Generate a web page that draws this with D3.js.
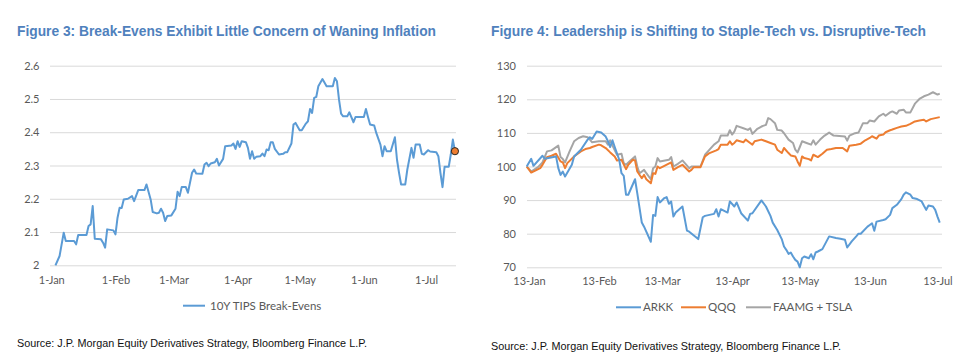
<!DOCTYPE html>
<html>
<head>
<meta charset="utf-8">
<script src="https://cdn.jsdelivr.net/npm/d3@7"></script>
<style>
  body { margin: 0; background: #fff; }
  svg { display: block; }
  .tick text { font-family: Lato, "Open Sans", sans-serif; font-size: 11px; fill: #595959; }
</style>
</head>
<body>
<div id="chart"></div>
<script>
// ---- data: Figure 3 (10Y TIPS break-evens) ----
const beDates = ["2021-01-03","2021-01-05","2021-01-07","2021-01-08","2021-01-12","2021-01-13","2021-01-14","2021-01-18","2021-01-19","2021-01-20",
  "2021-01-21","2021-01-22","2021-01-25","2021-01-26","2021-01-27","2021-01-28","2021-01-31","2021-02-01","2021-02-02","2021-02-03",
  "2021-02-04","2021-02-05","2021-02-07","2021-02-09","2021-02-10","2021-02-12","2021-02-15","2021-02-16","2021-02-18","2021-02-19",
  "2021-02-21","2021-02-22","2021-02-23","2021-02-24","2021-02-25","2021-02-26","2021-02-28","2021-03-02","2021-03-03","2021-03-04",
  "2021-03-05","2021-03-07","2021-03-08","2021-03-09","2021-03-10","2021-03-11","2021-03-12","2021-03-15","2021-03-16","2021-03-17",
  "2021-03-18","2021-03-19","2021-03-21","2021-03-22","2021-03-23","2021-03-25","2021-03-26","2021-03-29","2021-03-30","2021-03-31",
  "2021-04-01","2021-04-02","2021-04-03","2021-04-05","2021-04-06","2021-04-07","2021-04-08","2021-04-09","2021-04-10","2021-04-12",
  "2021-04-13","2021-04-14","2021-04-15","2021-04-16","2021-04-17","2021-04-18","2021-04-19","2021-04-21","2021-04-23","2021-04-24",
  "2021-04-25","2021-04-27","2021-04-28","2021-04-29","2021-05-01","2021-05-02","2021-05-04","2021-05-05","2021-05-06","2021-05-07",
  "2021-05-08","2021-05-09","2021-05-10","2021-05-12","2021-05-14","2021-05-17","2021-05-18","2021-05-19","2021-05-20","2021-05-21",
  "2021-05-22","2021-05-24","2021-05-25","2021-05-27","2021-05-28","2021-06-01","2021-06-02","2021-06-03","2021-06-04","2021-06-06",
  "2021-06-07","2021-06-09","2021-06-10","2021-06-11","2021-06-12","2021-06-14","2021-06-16","2021-06-17","2021-06-18","2021-06-19",
  "2021-06-21","2021-06-22","2021-06-24","2021-06-25","2021-06-26","2021-06-28","2021-06-29","2021-06-30","2021-07-02","2021-07-03",
  "2021-07-06","2021-07-07","2021-07-08","2021-07-09","2021-07-10","2021-07-12","2021-07-13","2021-07-14","2021-07-15"];
const beValues = [2.000,2.028,2.098,2.073,2.073,2.063,2.091,2.091,2.118,2.123,
  2.178,2.080,2.078,2.068,2.053,2.108,2.105,2.093,2.143,2.173,
  2.172,2.198,2.200,2.208,2.193,2.226,2.226,2.243,2.198,2.160,
  2.156,2.158,2.170,2.158,2.133,2.148,2.150,2.170,2.221,2.208,
  2.235,2.235,2.218,2.248,2.278,2.288,2.276,2.275,2.303,2.308,
  2.298,2.306,2.310,2.320,2.300,2.320,2.358,2.360,2.366,2.350,
  2.373,2.356,2.373,2.370,2.353,2.320,2.343,2.320,2.326,2.328,
  2.336,2.328,2.348,2.346,2.370,2.370,2.350,2.333,2.335,2.340,
  2.340,2.366,2.423,2.428,2.406,2.406,2.426,2.433,2.470,2.458,
  2.503,2.506,2.538,2.560,2.538,2.538,2.563,2.553,2.498,2.456,
  2.448,2.448,2.460,2.430,2.446,2.446,2.470,2.446,2.423,2.420,
  2.398,2.363,2.328,2.358,2.343,2.343,2.385,2.318,2.278,2.243,
  2.243,2.288,2.353,2.323,2.363,2.363,2.335,2.333,2.346,2.342,
  2.340,2.328,2.278,2.235,2.296,2.296,2.333,2.378,2.343];
const beTicks = ["2021-01-01","2021-02-01","2021-03-01","2021-04-01","2021-05-01","2021-06-01","2021-07-01"];
const beYTicks = [2, 2.1, 2.2, 2.3, 2.4, 2.5, 2.6];

// ---- data: Figure 4 (ARKK, QQQ, FAAMG + TSLA, rebased to 100) ----
const arkkDates = ["2021-01-12","2021-01-14","2021-01-15","2021-01-19","2021-01-20","2021-01-25","2021-01-26","2021-01-27","2021-01-28","2021-01-29",
  "2021-02-01","2021-02-02","2021-02-05","2021-02-08","2021-02-09","2021-02-10","2021-02-12","2021-02-14","2021-02-16","2021-02-17",
  "2021-02-18","2021-02-19","2021-02-20","2021-02-22","2021-02-23","2021-02-24","2021-02-25","2021-02-26","2021-03-01","2021-03-02",
  "2021-03-04","2021-03-05","2021-03-08","2021-03-09","2021-03-10","2021-03-11","2021-03-12","2021-03-14","2021-03-15","2021-03-16",
  "2021-03-17","2021-03-18","2021-03-19","2021-03-22","2021-03-24","2021-03-25","2021-03-29","2021-03-31","2021-04-01","2021-04-05",
  "2021-04-06","2021-04-07","2021-04-08","2021-04-11","2021-04-12","2021-04-14","2021-04-15","2021-04-17","2021-04-20","2021-04-21",
  "2021-04-22","2021-04-26","2021-04-28","2021-04-30","2021-05-01","2021-05-03","2021-05-05","2021-05-06","2021-05-07","2021-05-08",
  "2021-05-09","2021-05-10","2021-05-11","2021-05-12","2021-05-13","2021-05-14","2021-05-15","2021-05-17","2021-05-18","2021-05-19",
  "2021-05-20","2021-05-21","2021-05-23","2021-05-26","2021-05-29","2021-05-31","2021-06-02","2021-06-03","2021-06-05","2021-06-07",
  "2021-06-08","2021-06-09","2021-06-12","2021-06-13","2021-06-14","2021-06-15","2021-06-16","2021-06-19","2021-06-20","2021-06-22",
  "2021-06-23","2021-06-25","2021-06-27","2021-06-28","2021-06-29","2021-07-01","2021-07-02","2021-07-04","2021-07-06","2021-07-07",
  "2021-07-08","2021-07-09","2021-07-11","2021-07-12","2021-07-13","2021-07-14"];
const arkkValues = [100.0,102.3,100.2,103.2,102.3,103.0,99.5,97.5,98.5,97.0,
  100.5,103.0,105.0,108.0,108.7,108.2,110.4,110.1,108.9,107.5,
  105.8,107.8,105.8,102.0,98.0,97.2,91.6,91.6,96.2,92.0,
  83.3,82.1,77.6,85.6,85.3,90.9,89.3,90.6,90.9,88.9,
  89.6,85.1,86.3,88.1,80.9,80.6,78.4,84.9,85.3,85.9,
  87.3,85.1,87.3,86.3,89.6,88.1,89.3,86.1,83.9,85.9,
  86.1,89.9,88.1,85.3,83.3,81.1,78.4,76.2,75.2,74.0,
  74.4,73.2,72.2,71.7,70.0,72.7,73.2,72.7,73.9,72.4,
  74.4,74.7,75.4,79.2,78.7,78.5,78.2,75.9,77.7,79.2,
  80.0,80.0,82.1,82.6,83.1,80.9,83.6,84.1,84.3,85.6,
  87.6,88.6,90.3,91.6,92.3,91.6,90.6,90.3,89.6,88.3,
  87.1,88.4,88.1,87.1,85.1,83.3];

const qqqDates = ["2021-01-12","2021-01-14","2021-01-18","2021-01-19","2021-01-21","2021-01-23","2021-01-25","2021-01-27","2021-01-28","2021-01-29",
  "2021-01-30","2021-02-02","2021-02-03","2021-02-05","2021-02-07","2021-02-09","2021-02-10","2021-02-13","2021-02-14","2021-02-16",
  "2021-02-18","2021-02-20","2021-02-21","2021-02-23","2021-02-25","2021-02-26","2021-02-28","2021-03-01","2021-03-02","2021-03-04",
  "2021-03-05","2021-03-06","2021-03-08","2021-03-09","2021-03-10","2021-03-11","2021-03-12","2021-03-14","2021-03-17","2021-03-18",
  "2021-03-20","2021-03-22","2021-03-25","2021-03-26","2021-03-27","2021-03-30","2021-04-01","2021-04-03","2021-04-06","2021-04-07",
  "2021-04-08","2021-04-11","2021-04-12","2021-04-13","2021-04-14","2021-04-15","2021-04-18","2021-04-19","2021-04-21","2021-04-22",
  "2021-04-23","2021-04-26","2021-04-28","2021-04-30","2021-05-02","2021-05-03","2021-05-05","2021-05-06","2021-05-08","2021-05-09",
  "2021-05-11","2021-05-12","2021-05-13","2021-05-14","2021-05-15","2021-05-17","2021-05-18","2021-05-19","2021-05-21","2021-05-23",
  "2021-05-25","2021-05-27","2021-05-29","2021-06-01","2021-06-03","2021-06-04","2021-06-07","2021-06-09","2021-06-11","2021-06-13",
  "2021-06-14","2021-06-16","2021-06-17","2021-06-19","2021-06-20","2021-06-22","2021-06-23","2021-06-25","2021-06-27","2021-06-29",
  "2021-07-01","2021-07-03","2021-07-05","2021-07-07","2021-07-08","2021-07-10","2021-07-12","2021-07-14"];
const qqqValues = [100.0,98.2,99.5,100.5,102.8,103.2,103.8,101.5,101.2,99.5,
  101.0,103.0,103.5,104.5,105.2,105.5,105.8,106.5,106.3,105.5,
  104.2,103.0,101.8,102.0,99.2,100.5,102.0,101.8,98.5,96.5,
  97.5,96.2,95.0,98.0,97.8,100.0,99.5,100.2,101.2,99.0,
  99.8,100.5,98.5,99.0,99.8,99.8,103.0,104.0,104.8,105.2,
  106.5,106.5,107.5,106.5,107.0,107.8,107.2,108.0,107.0,106.5,
  107.5,108.0,107.5,107.0,106.5,105.0,104.0,105.5,104.0,103.3,
  103.0,101.5,100.2,103.0,102.5,102.2,101.8,103.5,102.8,103.8,
  105.0,105.2,105.5,105.5,104.5,106.2,106.5,106.8,107.8,108.5,
  109.0,108.3,109.2,109.5,110.2,110.8,111.0,111.5,111.9,112.1,
  112.7,113.4,113.7,113.9,113.4,114.1,114.4,114.7];

const techDates = ["2021-01-12","2021-01-14","2021-01-17","2021-01-19","2021-01-21","2021-01-23","2021-01-26","2021-01-27","2021-01-28","2021-01-29",
  "2021-01-31","2021-02-02","2021-02-04","2021-02-06","2021-02-08","2021-02-09","2021-02-10","2021-02-13","2021-02-16","2021-02-17",
  "2021-02-18","2021-02-19","2021-02-21","2021-02-23","2021-02-24","2021-02-25","2021-02-27","2021-03-01","2021-03-02","2021-03-03",
  "2021-03-05","2021-03-06","2021-03-08","2021-03-09","2021-03-10","2021-03-11","2021-03-12","2021-03-16","2021-03-17","2021-03-18",
  "2021-03-20","2021-03-22","2021-03-25","2021-03-26","2021-03-30","2021-04-01","2021-04-03","2021-04-05","2021-04-07","2021-04-08",
  "2021-04-11","2021-04-12","2021-04-13","2021-04-14","2021-04-15","2021-04-18","2021-04-20","2021-04-21","2021-04-22","2021-04-24",
  "2021-04-26","2021-04-28","2021-04-29","2021-04-30","2021-05-02","2021-05-03","2021-05-05","2021-05-06","2021-05-08","2021-05-10",
  "2021-05-11","2021-05-12","2021-05-13","2021-05-14","2021-05-16","2021-05-18","2021-05-19","2021-05-20","2021-05-22","2021-05-24",
  "2021-05-26","2021-05-28","2021-06-02","2021-06-03","2021-06-04","2021-06-06","2021-06-08","2021-06-10","2021-06-12","2021-06-13",
  "2021-06-15","2021-06-17","2021-06-19","2021-06-20","2021-06-22","2021-06-23","2021-06-25","2021-06-26","2021-06-28","2021-06-29",
  "2021-07-01","2021-07-03","2021-07-05","2021-07-07","2021-07-09","2021-07-11","2021-07-13","2021-07-14"];
const techValues = [100.0,98.5,99.8,101.2,104.5,104.8,106.2,102.8,102.2,101.2,
  104.5,107.5,108.5,109.0,108.7,108.0,107.2,107.5,107.5,106.5,
  107.8,106.2,103.5,103.8,101.0,100.5,101.8,103.0,100.0,98.0,
  99.0,98.0,96.2,99.5,100.0,102.5,101.5,102.0,102.8,100.0,
  100.8,101.8,99.5,100.0,100.0,103.5,105.0,106.5,107.5,109.2,
  109.2,110.8,109.5,110.4,112.1,111.4,110.9,111.4,109.7,111.1,
  111.9,112.4,114.4,114.1,112.9,110.9,110.7,109.9,108.0,107.0,
  105.0,104.2,105.8,107.5,107.0,106.5,107.8,106.5,108.0,109.2,
  110.1,109.2,108.9,107.7,109.2,109.8,110.1,112.9,112.9,113.7,
  113.4,114.9,115.7,115.1,116.1,116.4,115.7,116.7,116.9,116.1,
  116.1,118.7,120.1,120.9,121.4,122.1,121.4,121.7];

const techTicks = ["2021-01-13","2021-02-13","2021-03-13","2021-04-13","2021-05-13","2021-06-13","2021-07-13"];
const techYTicks = [70, 80, 90, 100, 110, 120, 130];
const seriesNames = ["ARKK", "QQQ", "FAAMG + TSLA"];
const seriesColors = ["#5b9bd5", "#ed7d31", "#a5a5a5"];

const parse = d3.timeParse("%Y-%m-%d");
const fontText = "Lato, 'Open Sans', sans-serif";

const svg = d3.select("#chart").append("svg")
    .attr("width", 976)
    .attr("height", 362);

// titles and sources
function title(x, text, len) {
  svg.append("text")
    .attr("x", x).attr("y", 35.5)
    .attr("textLength", len).attr("lengthAdjust", "spacingAndGlyphs")
    .style("font-family", "'Liberation Sans Narrow', 'Liberation Sans', Arial, sans-serif")
    .style("font-weight", "bold").style("font-size", "15px")
    .style("fill", "#4f81bd")
    .text(text);
}
function source(x, y) {
  svg.append("text")
    .attr("x", x).attr("y", y)
    .attr("textLength", 350).attr("lengthAdjust", "spacingAndGlyphs")
    .style("font-family", "'Liberation Sans', Arial, sans-serif")
    .style("font-size", "11.5px").style("fill", "#111")
    .text("Source: J.P. Morgan Equity Derivatives Strategy, Bloomberg Finance L.P.");
}
title(17, "Figure 3: Break-Evens Exhibit Little Concern of Waning Inflation", 419);
title(491, "Figure 4: Leadership is Shifting to Staple-Tech vs. Disruptive-Tech", 435);
source(17, 346.5);
source(491, 350);

// ---------- Figure 3 ----------
const x1 = d3.scaleTime()
    .domain([parse("2021-01-01"), parse("2021-07-16")])
    .range([51.3, 457]);
const y1 = d3.scaleLinear().domain([2, 2.6]).range([265.3, 65.7]);

const g1 = svg.append("g");
g1.append("g")
    .attr("transform", "translate(50,0)")
    .call(d3.axisLeft(y1).tickValues(beYTicks).tickSize(-406).tickPadding(10.5)
      .tickFormat(d => d3.format("")(+d.toFixed(1))))
    .call(g => g.select(".domain").remove())
    .call(g => g.selectAll(".tick line").attr("stroke", "#d9d9d9"));

g1.append("g")
    .attr("transform", "translate(0,265.3)")
    .call(d3.axisBottom(x1).tickValues(beTicks.map(parse)).tickSize(0)
      .tickFormat(d3.timeFormat("%-d-%b")))
    .call(g => g.select(".domain").remove())
    .call(g => g.selectAll(".tick text").attr("y", 14.7).attr("dy", "0.35em"));

const be = beDates.map((d, i) => ({date: parse(d), value: beValues[i]}));
g1.append("path")
    .datum(be)
    .attr("fill", "none")
    .attr("stroke", "#5b9bd5")
    .attr("stroke-width", 2)
    .attr("stroke-linejoin", "round")
    .attr("d", d3.line().x(d => x1(d.date)).y(d => y1(d.value)));

const last = be[be.length - 1];
g1.append("circle")
    .attr("cx", x1(last.date)).attr("cy", y1(last.value)).attr("r", 3.6)
    .attr("fill", "#ed7d31").attr("stroke", "#262626").attr("stroke-width", 1);

// legend
g1.append("line").attr("x1", 183).attr("x2", 205).attr("y1", 305.7).attr("y2", 305.7)
    .attr("stroke", "#5b9bd5").attr("stroke-width", 2);
g1.append("text").attr("x", 210).attr("y", 305.7).attr("dy", "0.35em")
    .style("font-family", fontText).style("font-size", "11.5px").style("fill", "#595959")
    .text("10Y TIPS Break-Evens");

// ---------- Figure 4 ----------
const x2 = d3.scaleTime()
    .domain([parse("2021-01-12"), parse("2021-07-15")])
    .range([526.7, 942]);
const y2 = d3.scaleLinear().domain([70, 130]).range([267.3, 65.7]);

const g2 = svg.append("g");
g2.append("g")
    .attr("transform", "translate(527,0)")
    .call(d3.axisLeft(y2).tickValues(techYTicks).tickSize(-415).tickPadding(11))
    .call(g => g.select(".domain").remove())
    .call(g => g.selectAll(".tick line").attr("stroke", "#d9d9d9"));

g2.append("g")
    .attr("transform", "translate(0,267.3)")
    .call(d3.axisBottom(x2).tickValues(techTicks.map(parse)).tickSize(0)
      .tickFormat(d3.timeFormat("%-d-%b")))
    .call(g => g.select(".domain").remove())
    .call(g => g.selectAll(".tick text").attr("y", 13.5).attr("dy", "0.35em"));

const series = [
  arkkDates.map((d, i) => ({date: parse(d), value: arkkValues[i]})),
  qqqDates.map((d, i) => ({date: parse(d), value: qqqValues[i]})),
  techDates.map((d, i) => ({date: parse(d), value: techValues[i]}))
];
const line2 = d3.line().x(d => x2(d.date)).y(d => y2(d.value));

// draw grey first, then orange, then blue on top
[2, 1, 0].forEach(k => {
  g2.append("path")
    .datum(series[k])
    .attr("fill", "none")
    .attr("stroke", seriesColors[k])
    .attr("stroke-width", 2)
    .attr("stroke-linejoin", "round")
    .attr("d", line2);
});

const legX = [616, 681, 746];
seriesNames.forEach((name, k) => {
  g2.append("line").attr("x1", legX[k]).attr("x2", legX[k] + 25)
    .attr("y1", 307.3).attr("y2", 307.3)
    .attr("stroke", seriesColors[k]).attr("stroke-width", 2);
  g2.append("text").attr("x", legX[k] + 27).attr("y", 307.3).attr("dy", "0.35em")
    .style("font-family", fontText).style("font-size", "11.5px").style("fill", "#595959")
    .text(name);
});
</script>
</body>
</html>
